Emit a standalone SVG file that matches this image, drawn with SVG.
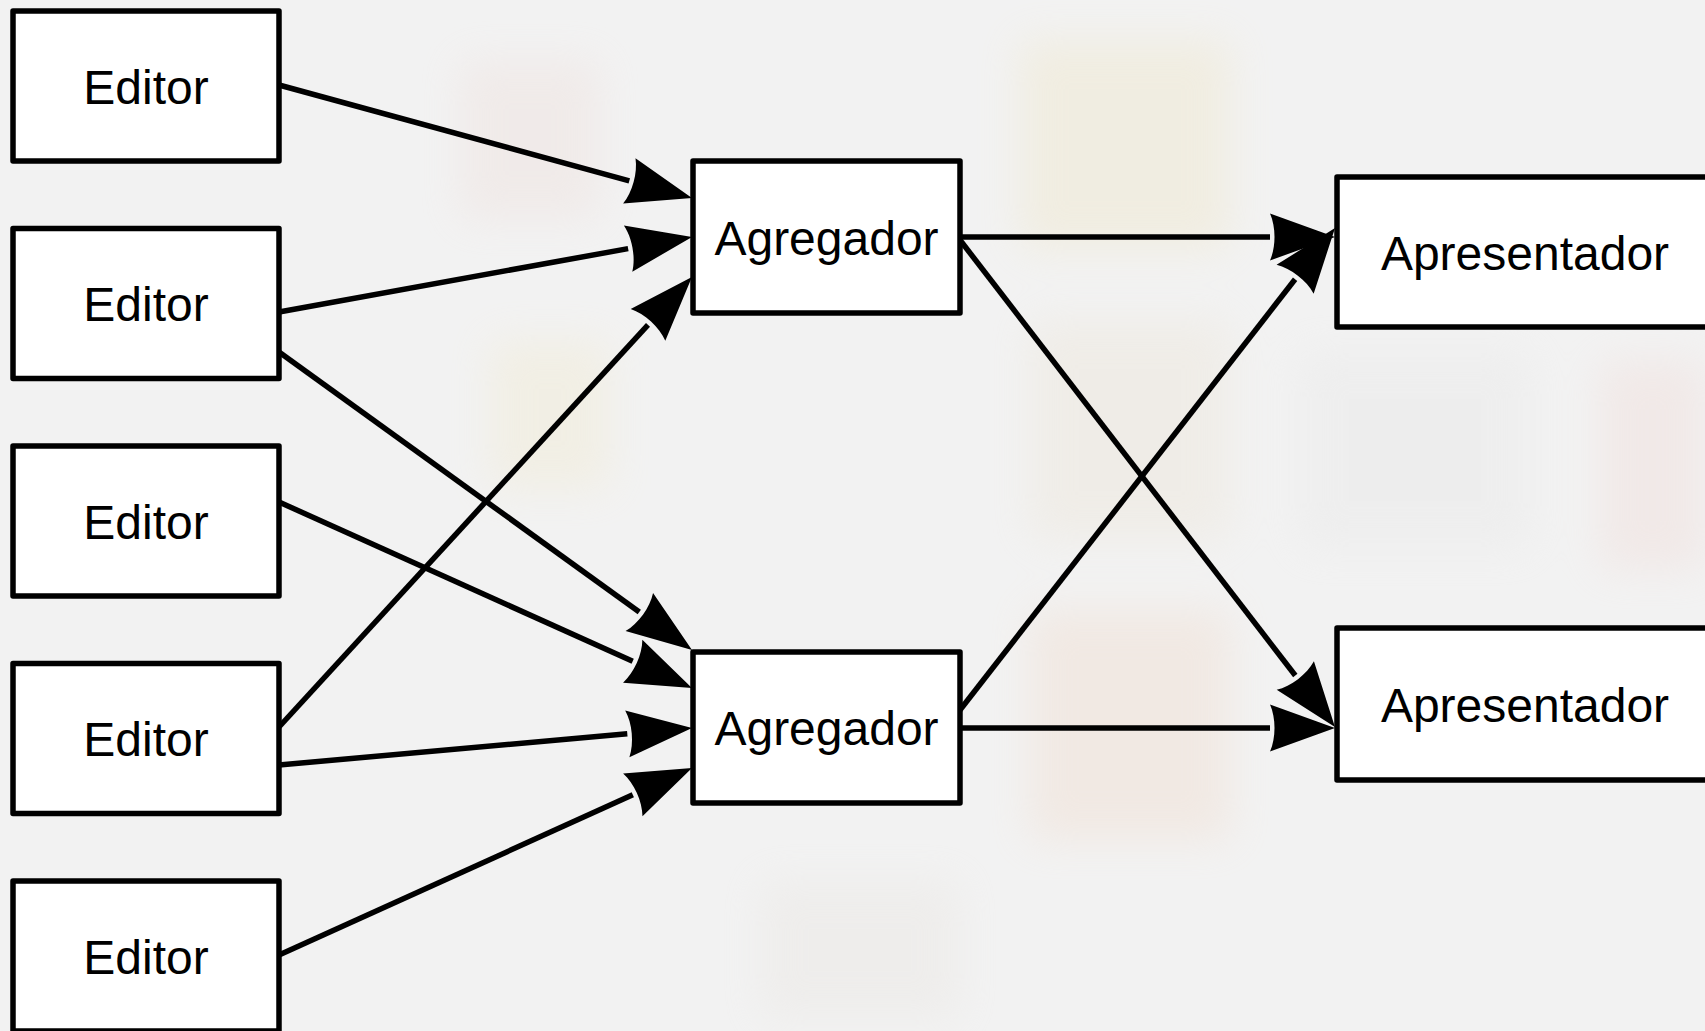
<svg xmlns="http://www.w3.org/2000/svg" width="1705" height="1031" viewBox="0 0 1705 1031">
  <style>
    .box { fill: #ffffff; stroke: #000000; stroke-width: 5.5; stroke-linejoin: round; }
    .label { font-family: "Liberation Sans", Arial, sans-serif; font-size: 48px; fill: #000000; text-anchor: middle; }
    .edge { fill: none; stroke: #000000; stroke-width: 5.5; stroke-linecap: butt; marker-end: url(#head); }
  </style>
  <defs>
    <!-- swept arrowhead with a concave back; origin sits at the end of the shaft -->
    <marker id="head" markerUnits="userSpaceOnUse" orient="auto" refX="0" refY="0"
            markerWidth="80" markerHeight="60" viewBox="-5 -30 80 60" overflow="visible">
      <path d="M 65,0 L 0,-23.5 C 6,-10 6,10 0,23.5 Z" fill="#000000"/>
    </marker>
    <filter id="soft" x="-20%" y="-20%" width="140%" height="140%">
      <feGaussianBlur stdDeviation="20"/>
    </filter>
  </defs>

  <!-- faded backdrop -->
  <rect x="0" y="0" width="1705" height="1031" fill="#f2f2f2"/>
  <g opacity="0.4" filter="url(#soft)">
    <rect x="1020" y="40" width="210" height="210" fill="#efe6c8"/>
    <rect x="1030" y="320" width="200" height="220" fill="#ece5d8"/>
    <rect x="1030" y="610" width="200" height="230" fill="#f0dccd"/>
    <rect x="1600" y="360" width="105" height="210" fill="#f0dcd8"/>
    <rect x="490" y="340" width="120" height="150" fill="#f1ead0"/>
    <rect x="460" y="60" width="140" height="160" fill="#eee0dc"/>
    <rect x="1300" y="350" width="230" height="200" fill="#e8e8e8"/>
    <rect x="760" y="880" width="200" height="140" fill="#e9e6e2"/>
  </g>

  <!-- connectors -->
  <g id="connectors">
    <path class="edge" d="M 279,85 L 629.3,180.8"/>
    <path class="edge" d="M 279,312 L 628.1,248.6"/>
    <path class="edge" d="M 279,727 L 648.0,324.9"/>
    <path class="edge" d="M 279,352 L 639.3,612.0"/>
    <path class="edge" d="M 279,502 L 632.7,661.3"/>
    <path class="edge" d="M 279,765 L 627.3,733.8"/>
    <path class="edge" d="M 279,955 L 632.8,794.8"/>
    <path class="edge" d="M 960,237 L 1270,237"/>
    <path class="edge" d="M 960,240 L 1295.3,675.5"/>
    <path class="edge" d="M 960,710 L 1295.1,279.3"/>
    <path class="edge" d="M 960,728 L 1270,728"/>
  </g>

  <!-- publishers -->
  <g id="editor-1">
    <rect class="box" x="13" y="11" width="266" height="150"/>
    <text class="label" x="146" y="103.5">Editor</text>
  </g>
  <g id="editor-2">
    <rect class="box" x="13" y="228.5" width="266" height="150"/>
    <text class="label" x="146" y="321">Editor</text>
  </g>
  <g id="editor-3">
    <rect class="box" x="13" y="446" width="266" height="150"/>
    <text class="label" x="146" y="538.5">Editor</text>
  </g>
  <g id="editor-4">
    <rect class="box" x="13" y="663.5" width="266" height="150"/>
    <text class="label" x="146" y="756">Editor</text>
  </g>
  <g id="editor-5">
    <rect class="box" x="13" y="881" width="266" height="150"/>
    <text class="label" x="146" y="973.5">Editor</text>
  </g>

  <!-- aggregators -->
  <g id="agregador-1">
    <rect class="box" x="693" y="161" width="267" height="152"/>
    <text class="label" x="826.5" y="254.5">Agregador</text>
  </g>
  <g id="agregador-2">
    <rect class="box" x="693" y="652" width="267" height="151"/>
    <text class="label" x="826.5" y="745">Agregador</text>
  </g>

  <!-- presenters -->
  <g id="apresentador-1">
    <rect class="box" x="1337" y="177" width="380" height="150"/>
    <text class="label" x="1525" y="269.5">Apresentador</text>
  </g>
  <g id="apresentador-2">
    <rect class="box" x="1337" y="628" width="380" height="152"/>
    <text class="label" x="1525" y="721.5">Apresentador</text>
  </g>
</svg>
